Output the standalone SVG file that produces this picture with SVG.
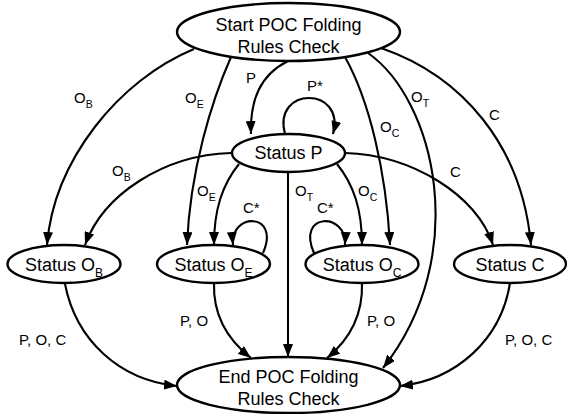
<svg xmlns="http://www.w3.org/2000/svg" width="567" height="414" viewBox="0 0 567 414">
  <style>
    .node ellipse { fill: #ffffff; stroke: #000000; stroke-width: 2.4; }
    .node text { font-family: "Liberation Sans", Arial, sans-serif; font-size: 18px; fill: #000000; text-anchor: middle; }
    .sub { font-size: 12px; }
    #edges path { fill: none; stroke: #000000; stroke-width: 2.1; }
    .lbl { font-family: "Liberation Sans", Arial, sans-serif; font-size: 15px; fill: #000000; }
    .lsub { font-size: 10.5px; }
  </style>
  <defs>
    <marker id="arrow" markerUnits="userSpaceOnUse" markerWidth="13" markerHeight="10" refX="13" refY="5" orient="auto">
      <path d="M0,0 L13,5 L0,10 z" fill="#000000"/>
    </marker>
  </defs>

  <!-- connectors -->
  <g id="edges" marker-end="url(#arrow)">
    <path d="M194,49 C119,80 54,160 47,245"/>
    <path d="M231,57 C212,100 190,170 187,245"/>
    <path d="M288,61 C260,75 250,100 251,134"/>
    <path d="M285,134 C272,86 346,86 333,134"/>
    <path d="M345,57 C369,100 386,170 390,245"/>
    <path d="M368,53 C435,100 472,255 383,368"/>
    <path d="M381,48 C462,76 522,145 531,245"/>
    <path d="M231,153 C163,155 103,195 85,245"/>
    <path d="M239,164 C222,185 214,210 214,245"/>
    <path d="M288,173 L288,357"/>
    <path d="M337,164 C354,185 362,210 362,245"/>
    <path d="M345,153 C412,155 477,195 493,245"/>
    <path d="M263,253 C281,212 230,212 233,245"/>
    <path d="M314,253 C296,212 347,212 345,245"/>
    <path d="M65,284 C76,340 119,380 177,386"/>
    <path d="M214,283 C213,315 228,340 251,358"/>
    <path d="M362,283 C363,315 349,340 327,358"/>
    <path d="M510,283 C501,340 456,380 400,386"/>
  </g>

  <!-- connector labels -->
  <g id="edge-labels">
    <text class="lbl" x="74" y="103">O<tspan class="lsub" dy="5">B</tspan></text>
    <text class="lbl" x="185" y="103">O<tspan class="lsub" dy="5">E</tspan></text>
    <text class="lbl" x="246" y="83">P</text>
    <text class="lbl" x="307" y="91">P*</text>
    <text class="lbl" x="380" y="132">O<tspan class="lsub" dy="5">C</tspan></text>
    <text class="lbl" x="411" y="102">O<tspan class="lsub" dy="5">T</tspan></text>
    <text class="lbl" x="489" y="120">C</text>
    <text class="lbl" x="112" y="176">O<tspan class="lsub" dy="5">B</tspan></text>
    <text class="lbl" x="197" y="196">O<tspan class="lsub" dy="5">E</tspan></text>
    <text class="lbl" x="295" y="196">O<tspan class="lsub" dy="5">T</tspan></text>
    <text class="lbl" x="358" y="196">O<tspan class="lsub" dy="5">C</tspan></text>
    <text class="lbl" x="450" y="177">C</text>
    <text class="lbl" x="243" y="213">C*</text>
    <text class="lbl" x="317" y="213">C*</text>
    <text class="lbl" x="19" y="345">P, O, C</text>
    <text class="lbl" x="180" y="326">P, O</text>
    <text class="lbl" x="367" y="326">P, O</text>
    <text class="lbl" x="505" y="345">P, O, C</text>
  </g>

  <!-- states -->
  <g id="start" class="node">
    <ellipse cx="288.5" cy="32" rx="111.5" ry="29"/>
    <text x="288.5" y="31">Start POC Folding</text>
    <text x="288.5" y="53">Rules Check</text>
  </g>
  <g id="status-p" class="node">
    <ellipse cx="288.5" cy="153" rx="56.5" ry="19"/>
    <text x="288.5" y="159">Status P</text>
  </g>
  <g id="status-ob" class="node">
    <ellipse cx="64" cy="264" rx="56.5" ry="19"/>
    <text x="64" y="271">Status O<tspan class="sub" dy="6">B</tspan></text>
  </g>
  <g id="status-oe" class="node">
    <ellipse cx="213.5" cy="264" rx="56.5" ry="19"/>
    <text x="213.5" y="271">Status O<tspan class="sub" dy="6">E</tspan></text>
  </g>
  <g id="status-oc" class="node">
    <ellipse cx="362" cy="264" rx="56.5" ry="19"/>
    <text x="362" y="271">Status O<tspan class="sub" dy="6">C</tspan></text>
  </g>
  <g id="status-c" class="node">
    <ellipse cx="510" cy="264" rx="56" ry="19"/>
    <text x="510" y="271">Status C</text>
  </g>
  <g id="end" class="node">
    <ellipse cx="288.5" cy="385" rx="111.5" ry="28"/>
    <text x="288.5" y="383">End POC Folding</text>
    <text x="288.5" y="405">Rules Check</text>
  </g>
</svg>
